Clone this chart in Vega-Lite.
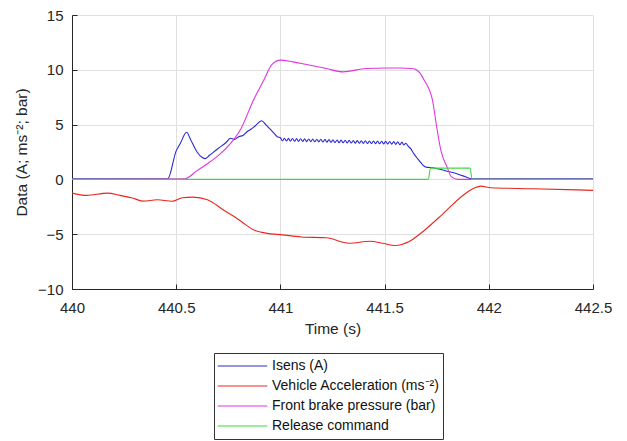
{
  "$schema": "https://vega.github.io/schema/vega-lite/v6.json",
  "width": 521,
  "height": 274,
  "autosize": {"type": "none"},
  "padding": {"left": 72, "top": 15, "right": 34, "bottom": 152},
  "background": "white",
  "config": {
    "view": {"stroke": null},
    "font": "Liberation Sans",
    "axis": {
      "domainColor": "#262626",
      "domainWidth": 1,
      "tickColor": "#262626",
      "tickSize": -5,
      "gridColor": "#e0e0e0",
      "gridWidth": 1,
      "labelColor": "#262626",
      "labelFontSize": 15,
      "labelFont": "Liberation Sans",
      "labelFlush": false,
      "titleColor": "#262626",
      "titleFontSize": 15.5,
      "titleFont": "Liberation Sans",
      "titleFontWeight": "normal"
    }
  },
  "data": {
    "values": [
      {"s": "Isens (A)", "t": 440.0, "v": 0.05},
      {"s": "Isens (A)", "t": 440.459, "v": 0.05},
      {"s": "Isens (A)", "t": 440.5, "v": 2.6},
      {"s": "Isens (A)", "t": 440.52, "v": 3.3},
      {"s": "Isens (A)", "t": 440.55, "v": 4.3},
      {"s": "Isens (A)", "t": 440.57, "v": 3.6},
      {"s": "Isens (A)", "t": 440.6, "v": 2.5},
      {"s": "Isens (A)", "t": 440.625, "v": 2.0},
      {"s": "Isens (A)", "t": 440.64, "v": 1.9},
      {"s": "Isens (A)", "t": 440.66, "v": 2.2},
      {"s": "Isens (A)", "t": 440.7, "v": 2.8},
      {"s": "Isens (A)", "t": 440.742, "v": 3.41},
      {"s": "Isens (A)", "t": 440.76, "v": 3.75},
      {"s": "Isens (A)", "t": 440.78, "v": 3.65},
      {"s": "Isens (A)", "t": 440.8, "v": 3.9},
      {"s": "Isens (A)", "t": 440.82, "v": 4.0},
      {"s": "Isens (A)", "t": 440.84, "v": 4.35},
      {"s": "Isens (A)", "t": 440.86, "v": 4.6},
      {"s": "Isens (A)", "t": 440.88, "v": 4.9},
      {"s": "Isens (A)", "t": 440.91, "v": 5.35},
      {"s": "Isens (A)", "t": 440.93, "v": 5.0},
      {"s": "Isens (A)", "t": 440.95, "v": 4.6},
      {"s": "Isens (A)", "t": 440.97, "v": 4.2},
      {"s": "Isens (A)", "t": 440.985, "v": 3.9},
      {"s": "Isens (A)", "t": 441.0, "v": 3.8},
      {"s": "Isens (A)", "t": 441.01, "v": 3.5},
      {"s": "Isens (A)", "t": 441.019, "v": 3.76},
      {"s": "Isens (A)", "t": 441.029, "v": 3.5},
      {"s": "Isens (A)", "t": 441.039, "v": 3.74},
      {"s": "Isens (A)", "t": 441.048, "v": 3.49},
      {"s": "Isens (A)", "t": 441.058, "v": 3.73},
      {"s": "Isens (A)", "t": 441.068, "v": 3.48},
      {"s": "Isens (A)", "t": 441.078, "v": 3.72},
      {"s": "Isens (A)", "t": 441.087, "v": 3.47},
      {"s": "Isens (A)", "t": 441.097, "v": 3.71},
      {"s": "Isens (A)", "t": 441.107, "v": 3.46},
      {"s": "Isens (A)", "t": 441.116, "v": 3.7},
      {"s": "Isens (A)", "t": 441.126, "v": 3.45},
      {"s": "Isens (A)", "t": 441.136, "v": 3.69},
      {"s": "Isens (A)", "t": 441.146, "v": 3.44},
      {"s": "Isens (A)", "t": 441.155, "v": 3.68},
      {"s": "Isens (A)", "t": 441.165, "v": 3.43},
      {"s": "Isens (A)", "t": 441.175, "v": 3.67},
      {"s": "Isens (A)", "t": 441.184, "v": 3.42},
      {"s": "Isens (A)", "t": 441.194, "v": 3.66},
      {"s": "Isens (A)", "t": 441.204, "v": 3.41},
      {"s": "Isens (A)", "t": 441.214, "v": 3.65},
      {"s": "Isens (A)", "t": 441.223, "v": 3.4},
      {"s": "Isens (A)", "t": 441.233, "v": 3.63},
      {"s": "Isens (A)", "t": 441.243, "v": 3.38},
      {"s": "Isens (A)", "t": 441.252, "v": 3.61},
      {"s": "Isens (A)", "t": 441.262, "v": 3.36},
      {"s": "Isens (A)", "t": 441.272, "v": 3.59},
      {"s": "Isens (A)", "t": 441.282, "v": 3.35},
      {"s": "Isens (A)", "t": 441.291, "v": 3.58},
      {"s": "Isens (A)", "t": 441.301, "v": 3.34},
      {"s": "Isens (A)", "t": 441.311, "v": 3.57},
      {"s": "Isens (A)", "t": 441.32, "v": 3.33},
      {"s": "Isens (A)", "t": 441.33, "v": 3.56},
      {"s": "Isens (A)", "t": 441.34, "v": 3.32},
      {"s": "Isens (A)", "t": 441.35, "v": 3.55},
      {"s": "Isens (A)", "t": 441.359, "v": 3.31},
      {"s": "Isens (A)", "t": 441.369, "v": 3.54},
      {"s": "Isens (A)", "t": 441.379, "v": 3.3},
      {"s": "Isens (A)", "t": 441.388, "v": 3.53},
      {"s": "Isens (A)", "t": 441.398, "v": 3.29},
      {"s": "Isens (A)", "t": 441.408, "v": 3.52},
      {"s": "Isens (A)", "t": 441.418, "v": 3.28},
      {"s": "Isens (A)", "t": 441.427, "v": 3.51},
      {"s": "Isens (A)", "t": 441.437, "v": 3.27},
      {"s": "Isens (A)", "t": 441.447, "v": 3.5},
      {"s": "Isens (A)", "t": 441.456, "v": 3.26},
      {"s": "Isens (A)", "t": 441.466, "v": 3.49},
      {"s": "Isens (A)", "t": 441.476, "v": 3.25},
      {"s": "Isens (A)", "t": 441.486, "v": 3.48},
      {"s": "Isens (A)", "t": 441.495, "v": 3.24},
      {"s": "Isens (A)", "t": 441.505, "v": 3.47},
      {"s": "Isens (A)", "t": 441.515, "v": 3.23},
      {"s": "Isens (A)", "t": 441.524, "v": 3.46},
      {"s": "Isens (A)", "t": 441.534, "v": 3.22},
      {"s": "Isens (A)", "t": 441.544, "v": 3.45},
      {"s": "Isens (A)", "t": 441.554, "v": 3.2},
      {"s": "Isens (A)", "t": 441.563, "v": 3.43},
      {"s": "Isens (A)", "t": 441.573, "v": 3.17},
      {"s": "Isens (A)", "t": 441.583, "v": 3.4},
      {"s": "Isens (A)", "t": 441.592, "v": 3.14},
      {"s": "Isens (A)", "t": 441.602, "v": 3.3},
      {"s": "Isens (A)", "t": 441.612, "v": 3.05},
      {"s": "Isens (A)", "t": 441.625, "v": 2.8},
      {"s": "Isens (A)", "t": 441.64, "v": 2.35},
      {"s": "Isens (A)", "t": 441.66, "v": 1.85},
      {"s": "Isens (A)", "t": 441.675, "v": 1.5},
      {"s": "Isens (A)", "t": 441.69, "v": 1.2},
      {"s": "Isens (A)", "t": 441.705, "v": 1.1},
      {"s": "Isens (A)", "t": 441.73, "v": 1.07},
      {"s": "Isens (A)", "t": 441.76, "v": 0.95},
      {"s": "Isens (A)", "t": 441.8, "v": 0.75},
      {"s": "Isens (A)", "t": 441.85, "v": 0.5},
      {"s": "Isens (A)", "t": 441.88, "v": 0.3},
      {"s": "Isens (A)", "t": 441.91, "v": 0.08},
      {"s": "Isens (A)", "t": 441.92, "v": 0.05},
      {"s": "Isens (A)", "t": 442.5, "v": 0.05},

      {"s": "Vehicle Acceleration (ms⁻²)", "t": 440.0, "v": -1.25},
      {"s": "Vehicle Acceleration (ms⁻²)", "t": 440.07, "v": -1.46},
      {"s": "Vehicle Acceleration (ms⁻²)", "t": 440.17, "v": -1.25},
      {"s": "Vehicle Acceleration (ms⁻²)", "t": 440.23, "v": -1.46},
      {"s": "Vehicle Acceleration (ms⁻²)", "t": 440.29, "v": -1.7},
      {"s": "Vehicle Acceleration (ms⁻²)", "t": 440.34, "v": -1.98},
      {"s": "Vehicle Acceleration (ms⁻²)", "t": 440.41, "v": -1.86},
      {"s": "Vehicle Acceleration (ms⁻²)", "t": 440.48, "v": -2.0},
      {"s": "Vehicle Acceleration (ms⁻²)", "t": 440.53, "v": -1.67},
      {"s": "Vehicle Acceleration (ms⁻²)", "t": 440.58, "v": -1.62},
      {"s": "Vehicle Acceleration (ms⁻²)", "t": 440.65, "v": -1.86},
      {"s": "Vehicle Acceleration (ms⁻²)", "t": 440.73, "v": -2.83},
      {"s": "Vehicle Acceleration (ms⁻²)", "t": 440.77, "v": -3.29},
      {"s": "Vehicle Acceleration (ms⁻²)", "t": 440.82, "v": -3.95},
      {"s": "Vehicle Acceleration (ms⁻²)", "t": 440.87, "v": -4.6},
      {"s": "Vehicle Acceleration (ms⁻²)", "t": 440.93, "v": -4.9},
      {"s": "Vehicle Acceleration (ms⁻²)", "t": 441.01, "v": -5.06},
      {"s": "Vehicle Acceleration (ms⁻²)", "t": 441.1, "v": -5.25},
      {"s": "Vehicle Acceleration (ms⁻²)", "t": 441.22, "v": -5.33},
      {"s": "Vehicle Acceleration (ms⁻²)", "t": 441.33, "v": -5.82},
      {"s": "Vehicle Acceleration (ms⁻²)", "t": 441.43, "v": -5.64},
      {"s": "Vehicle Acceleration (ms⁻²)", "t": 441.49, "v": -5.82},
      {"s": "Vehicle Acceleration (ms⁻²)", "t": 441.55, "v": -6.03},
      {"s": "Vehicle Acceleration (ms⁻²)", "t": 441.62, "v": -5.64},
      {"s": "Vehicle Acceleration (ms⁻²)", "t": 441.69, "v": -4.66},
      {"s": "Vehicle Acceleration (ms⁻²)", "t": 441.78, "v": -3.14},
      {"s": "Vehicle Acceleration (ms⁻²)", "t": 441.88, "v": -1.4},
      {"s": "Vehicle Acceleration (ms⁻²)", "t": 441.93, "v": -0.79},
      {"s": "Vehicle Acceleration (ms⁻²)", "t": 441.96, "v": -0.61},
      {"s": "Vehicle Acceleration (ms⁻²)", "t": 442.01, "v": -0.76},
      {"s": "Vehicle Acceleration (ms⁻²)", "t": 442.21, "v": -0.85},
      {"s": "Vehicle Acceleration (ms⁻²)", "t": 442.5, "v": -1.0},

      {"s": "Front brake pressure (bar)", "t": 440.0, "v": 0.0},
      {"s": "Front brake pressure (bar)", "t": 440.54, "v": 0.05},
      {"s": "Front brake pressure (bar)", "t": 440.6, "v": 0.8},
      {"s": "Front brake pressure (bar)", "t": 440.65, "v": 1.43},
      {"s": "Front brake pressure (bar)", "t": 440.71, "v": 2.3},
      {"s": "Front brake pressure (bar)", "t": 440.76, "v": 3.26},
      {"s": "Front brake pressure (bar)", "t": 440.81, "v": 4.6},
      {"s": "Front brake pressure (bar)", "t": 440.87, "v": 7.2},
      {"s": "Front brake pressure (bar)", "t": 440.92, "v": 9.05},
      {"s": "Front brake pressure (bar)", "t": 440.96, "v": 10.5},
      {"s": "Front brake pressure (bar)", "t": 441.0, "v": 10.88},
      {"s": "Front brake pressure (bar)", "t": 441.06, "v": 10.72},
      {"s": "Front brake pressure (bar)", "t": 441.12, "v": 10.5},
      {"s": "Front brake pressure (bar)", "t": 441.22, "v": 10.12},
      {"s": "Front brake pressure (bar)", "t": 441.3, "v": 9.81},
      {"s": "Front brake pressure (bar)", "t": 441.41, "v": 10.12},
      {"s": "Front brake pressure (bar)", "t": 441.51, "v": 10.17},
      {"s": "Front brake pressure (bar)", "t": 441.57, "v": 10.17},
      {"s": "Front brake pressure (bar)", "t": 441.64, "v": 10.1},
      {"s": "Front brake pressure (bar)", "t": 441.67, "v": 9.7},
      {"s": "Front brake pressure (bar)", "t": 441.69, "v": 9.05},
      {"s": "Front brake pressure (bar)", "t": 441.73, "v": 7.2},
      {"s": "Front brake pressure (bar)", "t": 441.75, "v": 4.78},
      {"s": "Front brake pressure (bar)", "t": 441.77, "v": 2.65},
      {"s": "Front brake pressure (bar)", "t": 441.8, "v": 1.12},
      {"s": "Front brake pressure (bar)", "t": 441.82, "v": 0.25},
      {"s": "Front brake pressure (bar)", "t": 441.85, "v": 0.0},
      {"s": "Front brake pressure (bar)", "t": 442.5, "v": 0.0},

      {"s": "Release command", "t": 440.0, "v": 0.0},
      {"s": "Release command", "t": 441.71, "v": 0.0},
      {"s": "Release command", "t": 441.72, "v": 1.03},
      {"s": "Release command", "t": 441.91, "v": 1.03},
      {"s": "Release command", "t": 441.92, "v": 0.0},
      {"s": "Release command", "t": 442.5, "v": 0.0}
    ]
  },
  "mark": {"type": "line", "strokeWidth": 1.1, "clip": true, "interpolate": "monotone"},
  "encoding": {
    "x": {
      "field": "t", "type": "quantitative",
      "scale": {"domain": [440, 442.5], "nice": false, "zero": false},
      "axis": {"values": [440, 440.5, 441, 441.5, 442, 442.5], "format": "~g", "title": "Time (s)", "labelPadding": 16, "titlePadding": 6, "grid": true}
    },
    "y": {
      "field": "v", "type": "quantitative",
      "scale": {"domain": [-10, 15], "nice": false, "zero": false},
      "axis": {"values": [-10, -5, 0, 5, 10, 15], "title": "Data (A; ms⁻²; bar)", "labelPadding": 14, "titlePadding": 8, "grid": true}
    },
    "color": {
      "field": "s", "type": "nominal",
      "scale": {
        "domain": ["Isens (A)", "Vehicle Acceleration (ms⁻²)", "Front brake pressure (bar)", "Release command"],
        "range": ["#2a2ad0", "#e8261f", "#e035e0", "#3fd83f"]
      },
      "legend": {
        "orient": "none",
        "legendX": 142,
        "legendY": 338,
        "title": null,
        "symbolType": "stroke",
        "symbolSize": 2450,
        "symbolStrokeWidth": 1.1,
        "labelFontSize": 14,
        "labelFont": "Liberation Sans",
        "labelColor": "#111111",
        "labelOffset": 4,
        "strokeColor": "#333333",
        "fillColor": "white",
        "padding": 3,
        "clipHeight": 20,
        "rowPadding": 0,
        "labelLimit": 300
      }
    }
  }
}
